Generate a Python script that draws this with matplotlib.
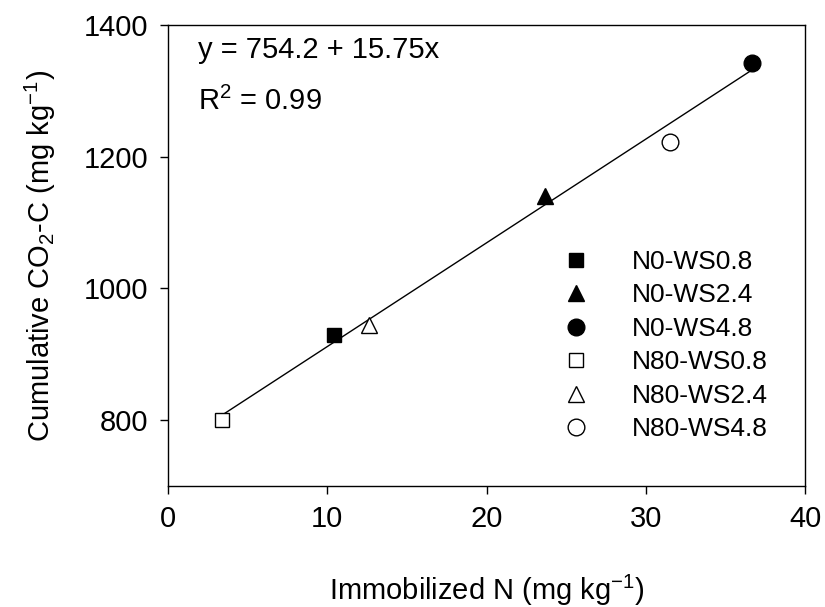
import matplotlib

matplotlib.use("Agg")
import matplotlib.pyplot as plt
import numpy as np

# values
labels = ["N0-WS0.8", "N0-WS2.4", "N0-WS4.8", "N80-WS0.8", "N80-WS2.4", "N80-WS4.8"]
immob_n = [10.4, 23.7, 36.7, 3.4, 12.6, 31.5]
cum_co2 = [930, 1140, 1343, 801, 945, 1223]
markers = ["s", "^", "o", "s", "^", "o"]
filled = [True, True, True, False, False, False]
sizes = [10, 12, 12, 10, 12, 12]

intercept = 754.2
slope = 15.75
r2 = 0.99

x_ticks = [0, 10, 20, 30, 40]
y_ticks = [800, 1000, 1200, 1400]

plt.rcParams["font.family"] = ["Liberation Sans", "DejaVu Sans"]
plt.rcParams["mathtext.fontset"] = "custom"
plt.rcParams["mathtext.rm"] = "Liberation Sans"
plt.rcParams["mathtext.it"] = "Liberation Sans:italic"
plt.rcParams["mathtext.default"] = "regular"

fig = plt.figure(figsize=(8.25, 6.07), dpi=100)
ax = fig.add_axes([0.2036, 0.1993, 0.7722, 0.7595])

# fitted line over the data range
xs = np.array([min(immob_n), max(immob_n)])
ax.plot(xs, intercept + slope * xs, color="black", lw=1.0, zorder=2)

for x, y, m, f, s, lab in zip(immob_n, cum_co2, markers, filled, sizes, labels):
    ax.plot(x, y, linestyle="none", marker=m, markersize=s,
            markerfacecolor="black" if f else "white",
            markeredgecolor="black", markeredgewidth=1.0,
            label=lab, zorder=3)

ax.set_xlim(0, 40)
ax.set_ylim(700, 1400)
ax.set_xticks(x_ticks)
ax.set_yticks(y_ticks)
ax.tick_params(direction="out", length=6, width=1, labelsize=21, pad=8)
for sp in ax.spines.values():
    sp.set_linewidth(1.0)

ax.set_xlabel("Immobilized N (mg kg$^{-1}$)", fontsize=21, labelpad=28)
ax.set_ylabel("Cumulative CO$_2$-C (mg kg$^{-1}$)", fontsize=21, labelpad=19)

ax.text(0.047, 0.946, f"y = {intercept} + {slope}x", transform=ax.transAxes,
        fontsize=21, va="center", ha="left")
ax.text(0.047, 0.835, f"R$^2$ = {r2}", transform=ax.transAxes,
        fontsize=21, va="center", ha="left")

ax.legend(loc="upper left", bbox_to_anchor=(0.62, 0.512), frameon=False,
          fontsize=19, handlelength=1.0, handletextpad=1.6, borderpad=0,
          borderaxespad=0, labelspacing=0.36, numpoints=1)

fig.savefig("out.png", dpi=100)
